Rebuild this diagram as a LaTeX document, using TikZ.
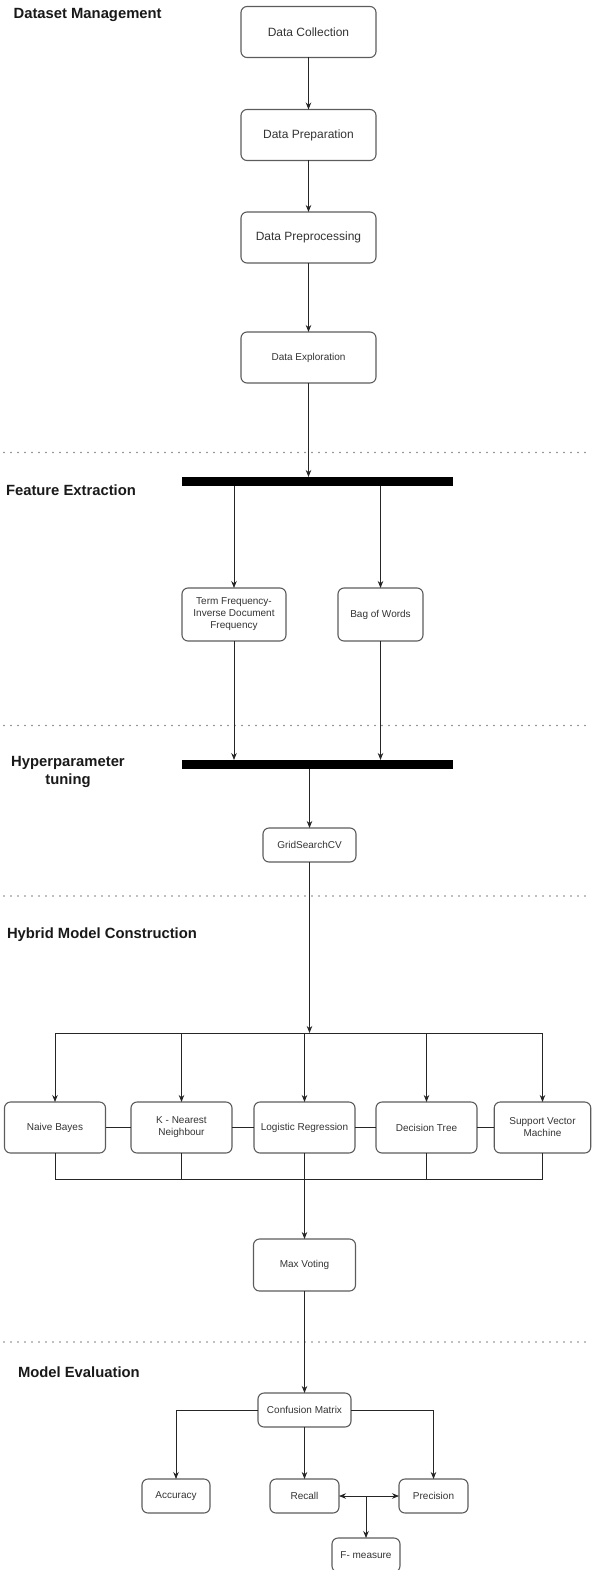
\documentclass[tikz,border=0pt]{standalone}
\usepackage{fontspec}
\setmainfont{Liberation Sans}
\usetikzlibrary{arrows.meta}
\definecolor{boxline}{HTML}{5C5C5C}
\definecolor{boxtext}{HTML}{333333}

\begin{document}
\begin{tikzpicture}[x=1pt,y=-1pt,every node/.style={inner sep=0,outer sep=0},
  stage/.style={draw=boxline,line width=1.1pt,rounded corners=6pt,text=boxtext,align=center,font=\fontsize{10}{12}\selectfont},
  datastage/.style={stage,minimum width=135pt,minimum height=51pt},
  model/.style={stage,minimum width=101pt,minimum height=51pt},
  smallstage/.style={stage,minimum height=34pt},
  bar/.style={fill=black,minimum width=271pt,minimum height=9pt},
  heading/.style={font=\bfseries\fontsize{14.8}{18}\selectfont,text=black!90,align=center},
  arr/.style={-{Stealth[length=7pt,width=5.5pt]},line width=0.8pt,black!85},
  link/.style={line width=0.8pt,black!85},
  sep/.style={gray,line width=1.6pt,line cap=round,dash pattern=on 0pt off 7pt}]
\useasboundingbox (0,0) rectangle (592,1570);

\foreach \y in {452.5,725.5,896,1342} \draw[sep] (4,\y) -- (589,\y);

\node (dm) at (13.6,15) [heading,anchor=west] {Dataset Management};
\node (fe) at (6,490) [heading,anchor=west] {Feature Extraction};
\node (ht) at (68,772) [heading] {Hyperparameter\\tuning};
\node (hm) at (7,935) [heading,anchor=west] {Hybrid Model Construction};
\node (me) at (18,1372) [heading,anchor=west] {Model Evaluation};

\node (collect) at (308.5,32) [datastage,font=\fontsize{12}{14}\selectfont] {Data Collection};
\node (prep) at (308.5,135) [datastage,font=\fontsize{12}{14}\selectfont] {Data Preparation};
\node (preproc) at (308.5,237.5) [datastage,font=\fontsize{12}{14}\selectfont] {Data Preprocessing};
\node (explore) at (308.5,357.5) [datastage] {Data Exploration};
\draw[arr] (collect) -- (prep);
\draw[arr] (prep) -- (preproc);
\draw[arr] (preproc) -- (explore);

\node (bar1) at (317.5,481.5) [bar] {};
\node (tfidf) at (234,614.5) [stage,minimum width=104pt,minimum height=53pt] {Term Frequency-\\Inverse Document\\Frequency};
\node (bow) at (380.5,614.5) [stage,minimum width=85pt,minimum height=53pt] {Bag of Words};
\node (bar2) at (317.5,764.5) [bar] {};
\node (grid) at (309.5,845) [smallstage,minimum width=93pt] {GridSearchCV};
\draw[arr] (explore) -- (explore |- bar1.north);
\draw[arr] (bar1.south -| tfidf) -- (tfidf);
\draw[arr] (bar1.south -| bow) -- (bow);
\draw[arr] (tfidf) -- (tfidf |- bar2.north);
\draw[arr] (bow) -- (bow |- bar2.north);
\draw[arr] (bar2.south -| grid) -- (grid);

\node (nb) at (55,1127.5) [model] {Naive Bayes};
\node (knn) at (181.5,1127.5) [model] {K - Nearest\\Neighbour};
\node (lr) at (304.5,1127.5) [model] {Logistic Regression};
\node (dt) at (426.5,1127.5) [model] {Decision Tree};
\node (svm) at (542.5,1127.5) [model,minimum width=96.5pt] {Support Vector\\Machine};
\coordinate (split) at (309.5,1033);
\coordinate (join) at (304.5,1179);
\draw[arr] (grid) -- (split);
\draw[link] (nb.north |- split) -- (svm.north |- split);
\foreach \m in {nb,knn,lr,dt,svm} \draw[arr] (\m.north |- split) -- (\m);
\draw[link] (nb) -- (knn) (knn) -- (lr) (lr) -- (dt) (dt) -- (svm);
\draw[link] (nb) -- (nb |- join) -- (svm |- join) -- (svm);
\foreach \m in {knn,dt} \draw[link] (\m) -- (\m |- join);

\node (vote) at (304.5,1265) [stage,minimum width=102pt,minimum height=52pt] {Max Voting};
\node (cm) at (304.5,1410) [smallstage,minimum width=93pt] {Confusion Matrix};
\node (acc) at (176,1496) [smallstage,minimum width=68pt] {Accuracy};
\node (recall) at (304.5,1496) [smallstage,minimum width=69pt] {Recall};
\node (prec) at (433.5,1496) [smallstage,minimum width=69pt] {Precision};
\node (fmeas) at (366,1555) [smallstage,minimum width=68pt] {F- measure};
\draw[arr] (lr) -- (vote);
\draw[arr] (vote) -- (cm);
\draw[arr] (cm) -| (acc);
\draw[arr] (cm) -- (recall);
\draw[arr] (cm) -| (prec);
\draw[arr,{Stealth[length=7pt,width=5.5pt]}-{Stealth[length=7pt,width=5.5pt]}] (recall) -- (prec);
\draw[arr] (recall -| fmeas) -- (fmeas);
\end{tikzpicture}
\end{document}
